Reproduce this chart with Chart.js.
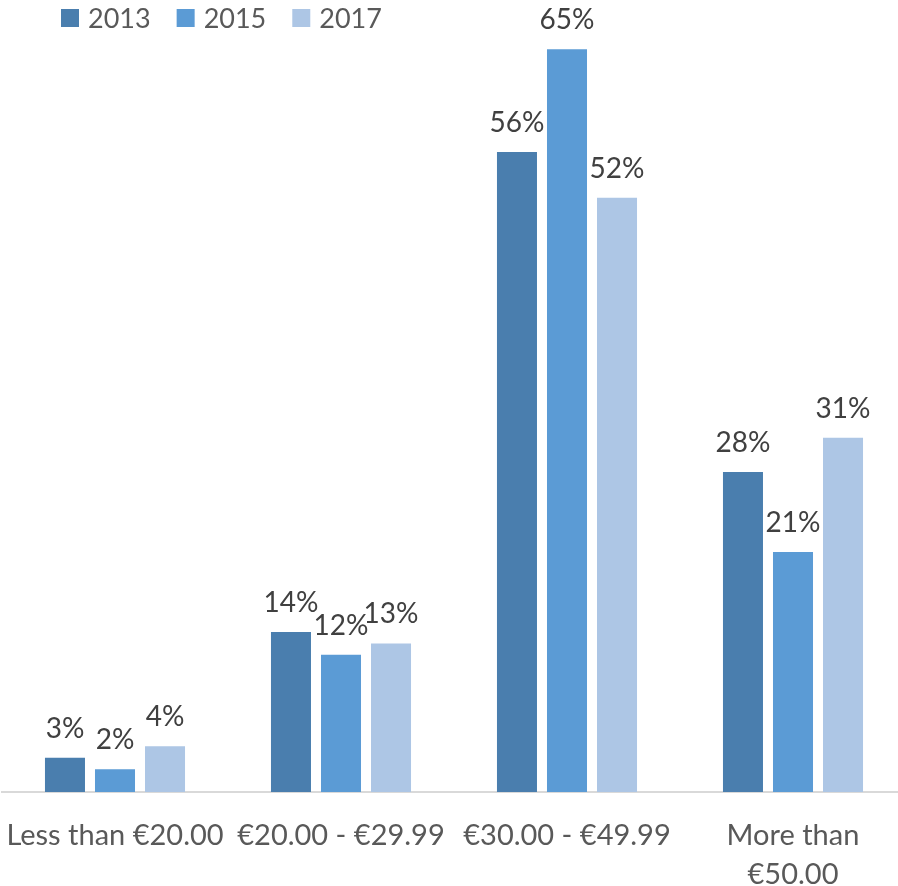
<!DOCTYPE html>
<html>
<head>
<meta charset="utf-8">
<title>Spend per visit, 2013–2017</title>
<script src="https://cdn.jsdelivr.net/npm/chart.js@4/dist/chart.umd.min.js"></script>
<style>
  html, body { margin: 0; padding: 0; background: #ffffff; overflow: hidden; }
  #wrap { width: 898px; height: 886px; overflow: hidden; }
  canvas { display: block; }
</style>
</head>
<body>
<div id="wrap"><canvas id="chart" width="906" height="886"></canvas></div>
<script>
// Price bands and the share of respondents in each, per survey year (%)
const categories = ['Less than €20.00', '€20.00 - €29.99', '€30.00 - €49.99', ['More than', '€50.00']];
const years = ['2013', '2015', '2017'];
const values2013 = [3, 14, 56, 28];
const values2015 = [2, 12, 65, 21];
const values2017 = [4, 13, 52, 31];
const colors = ['#4a7eae', '#5b9bd5', '#adc6e5'];

const FONT = 'Lato, "Open Sans", sans-serif';

// Value labels above each bar
const barLabels = {
  id: 'barLabels',
  afterDatasetsDraw(chart) {
    const ctx = chart.ctx;
    ctx.save();
    ctx.font = '28px ' + FONT;
    ctx.fillStyle = '#404040';
    ctx.textAlign = 'center';
    ctx.textBaseline = 'alphabetic';
    chart.data.datasets.forEach((ds, i) => {
      chart.getDatasetMeta(i).data.forEach((bar, j) => {
        ctx.fillText(ds.data[j] + '%', bar.x, bar.y - 20);
      });
    });
    ctx.restore();
  }
};

// Legend row in the top-left corner, drawn over the plot
const topLegend = {
  id: 'topLegend',
  afterDraw(chart) {
    const ctx = chart.ctx;
    ctx.save();
    ctx.font = '27px ' + FONT;
    ctx.textBaseline = 'alphabetic';
    let x = 61;
    chart.data.datasets.forEach(ds => {
      ctx.fillStyle = ds.backgroundColor;
      ctx.fillRect(x, 9, 18, 18);
      ctx.fillStyle = '#595959';
      ctx.fillText(ds.label, x + 27, 28);
      x += 27 + ctx.measureText(ds.label).width + 26;
    });
    ctx.restore();
  }
};

new Chart(document.getElementById('chart'), {
  type: 'bar',
  data: {
    labels: categories,
    datasets: [
      { label: years[0], data: values2013, backgroundColor: colors[0] },
      { label: years[1], data: values2015, backgroundColor: colors[1] },
      { label: years[2], data: values2017, backgroundColor: colors[2] }
    ]
  },
  options: {
    responsive: false,
    animation: false,
    layout: { padding: { left: 2, right: 0, top: 0, bottom: 0 } },
    datasets: { bar: { categoryPercentage: 0.664, barPercentage: 0.8 } },
    plugins: { legend: { display: false }, tooltip: { enabled: false } },
    scales: {
      x: {
        grid: { display: false, drawTicks: false },
        border: { display: true, color: '#d9d9d9', width: 2 },
        ticks: {
          color: '#595959',
          font: { family: FONT, size: 29, lineHeight: 1.345 },
          padding: 24,
          maxRotation: 0,
          autoSkip: false
        },
        afterFit(scale) {
          // labels may spill past the plot edges, as the bands do
          scale.height = 94;
          scale.paddingLeft = 0;
          scale.paddingRight = 0;
        }
      },
      y: {
        display: false,
        min: 0,
        max: 69.3
      }
    }
  },
  plugins: [barLabels, topLegend]
});
</script>
</body>
</html>
